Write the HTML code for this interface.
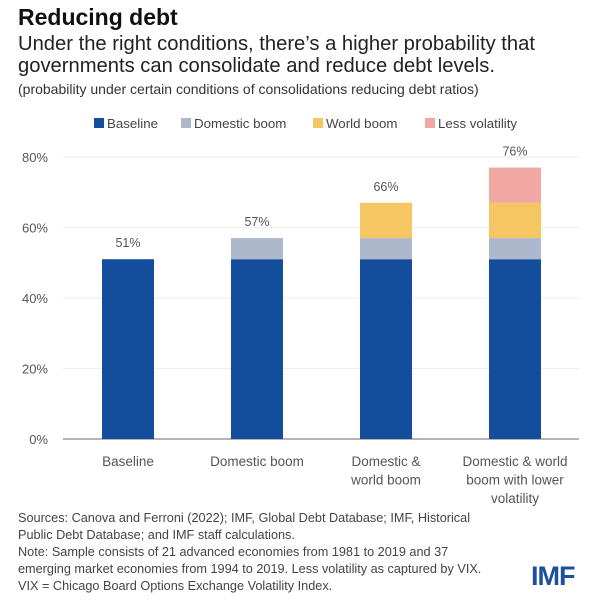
<!DOCTYPE html>
<html><head><meta charset="utf-8"><style>
body{margin:0;width:610px;height:600px;background:#fff;font-family:"Liberation Sans",sans-serif;color:#333;overflow:hidden;position:relative}
.t{position:absolute;white-space:nowrap}
</style></head><body>
<div class="t" style="left:18px;top:4px;font-size:23px;font-weight:bold;color:#111">Reducing debt</div>
<div class="t" style="left:18px;top:33px;font-size:20.2px;line-height:22px;color:#222">Under the right conditions, there’s a higher probability that<br>governments can consolidate and reduce debt levels.</div>
<div class="t" style="left:18px;top:81px;font-size:14px;color:#333">(probability under certain conditions of consolidations reducing debt ratios)</div>
<svg id="c" width="610" height="600" style="position:absolute;left:0;top:0"></svg>
<div class="t" style="left:18px;top:510px;font-size:12.7px;line-height:17px;color:#444">Sources: Canova and Ferroni (2022); IMF, Global Debt Database; IMF, Historical<br>Public Debt Database; and IMF staff calculations.<br>Note: Sample consists of 21 advanced economies from 1981 to 2019 and 37<br>emerging market economies from 1994 to 2019. Less volatility as captured by VIX.<br>VIX = Chicago Board Options Exchange Volatility Index.</div>
<div class="t" style="left:531px;top:561px;font-size:27px;font-weight:bold;color:#1d4f9c;letter-spacing:-1px">IMF</div>
<script>
const categories=[["Baseline"],["Domestic boom"],["Domestic &","world boom"],["Domestic & world","boom with lower","volatility"]];
const seriesNames=["Baseline","Domestic boom","World boom","Less volatility"];
const baseline=[51,51,51,51];
const domestic=[0,6,6,6];
const world=[0,0,10,10];
const lessVol=[0,0,0,10];
const totals=["51%","57%","66%","76%"];
const yTicks=[0,20,40,60,80];
const colors=["#134d9b","#adb8cd","#f5c662","#f1a7a2"];
const NS="http://www.w3.org/2000/svg",svg=document.getElementById('c');
const y=v=>439-v*3.525, x=i=>128+i*129, bw=52;
function mk(t,a,txt){const e=document.createElementNS(NS,t);for(const k in a)e.setAttribute(k,a[k]);if(txt!=null)e.textContent=txt;svg.appendChild(e);return e;}
yTicks.forEach(v=>{
 const l=mk('line',{x1:63,x2:579,y1:y(v),y2:y(v),stroke:v?'#eeeeee':'#888','stroke-width':v?1:1.3});
 
 
 const t=mk('text',{x:48,y:y(v)+5,'text-anchor':'end','font-size':13,fill:'#555'},v+'%');
 
 
});
const series=[baseline,domestic,world,lessVol];
categories.forEach((c,i)=>{
 let acc=0;
 series.forEach((s,k)=>{ if(s[i]>0){
  const r=mk('rect',{x:x(i)-bw/2,y:y(acc+s[i]),width:bw,height:y(acc)-y(acc+s[i]),fill:colors[k]});
  
  
  acc+=s[i];}});
 const t=mk('text',{x:x(i),y:y(acc)-12,'text-anchor':'middle','font-size':12.5,fill:'#555'},totals[i]);
 
 
 c.forEach((ln,j)=>{const tl=mk('text',{x:x(i),y:466+j*18.5,'text-anchor':'middle','font-size':13.5,fill:'#555'},ln);
  
  });
});
const lx=[94,181,313,425];
seriesNames.forEach((n,k)=>{
 const r=mk('rect',{x:lx[k],y:118,width:10,height:10,fill:colors[k]});
 
 
 const t=mk('text',{x:lx[k]+13,y:128,'font-size':13.3,fill:'#444'},n);
 
 
});
</script>
</body></html>
